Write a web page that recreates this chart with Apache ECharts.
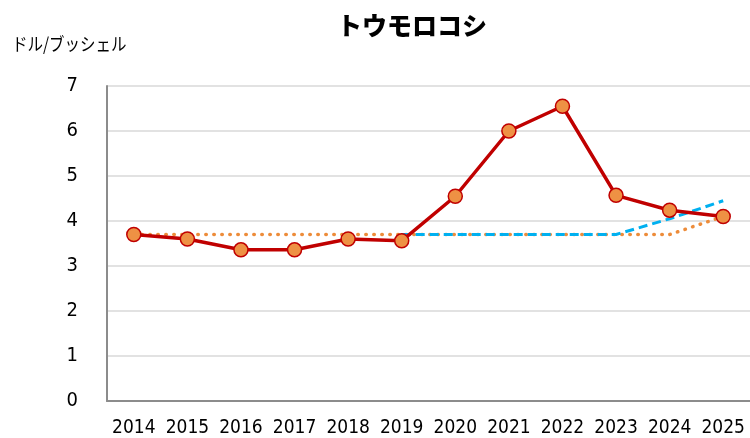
<!DOCTYPE html>
<html><head><meta charset="utf-8">
<script src="https://cdn.jsdelivr.net/npm/echarts@6/dist/echarts.min.js"></script>
<style>html,body{margin:0;padding:0;background:#fff}#c{width:750px;height:438px}</style>
</head><body><div id="c"></div>
<script>
const years = ['2014','2015','2016','2017','2018','2019','2020','2021','2022','2023','2024','2025'];
const actual = [3.7, 3.6, 3.36, 3.36, 3.6, 3.56, 4.55, 6.0, 6.55, 4.57, 4.24, 4.1];
const dotted = [3.7, 3.7, 3.7, 3.7, 3.7, 3.7, 3.7, 3.7, 3.7, 3.7, 3.7, 4.1];
const dashed = [null, null, null, null, null, 3.7, 3.7, 3.7, 3.7, 3.7, 4.05, 4.45];
const yTicks = [0, 1, 2, 3, 4, 5, 6, 7];

const labelFont = "'DejaVu Sans Condensed', 'DejaVu Sans'";
const chart = echarts.init(document.getElementById('c'));
chart.setOption({
  animation: false,
  title: {
    text: 'トウモロコシ', left: 407, top: 8, textAlign: 'center',
    textStyle: {fontFamily: 'Noto Sans CJK JP', fontWeight: 900, fontSize: 25, color: '#000'}
  },
  graphic: [{
    type: 'text', x: 12, y: 35, scaleX: 0.86,
    style: {text: 'ドル/ブッシェル', font: '18px "Noto Sans CJK JP"', fill: '#000'}
  }],
  grid: {left: 107, top: 86, width: 645, height: 317, containLabel: false},
  xAxis: {
    type: 'category', data: years, boundaryGap: true,
    axisLine: {lineStyle: {color: '#8c8c8c', width: 2}},
    axisTick: {show: false},
    axisLabel: {fontFamily: labelFont, fontSize: 19, color: '#000', margin: 18, interval: 0}
  },
  yAxis: {
    type: 'value', min: yTicks[0], max: yTicks[yTicks.length - 1], interval: 1,
    axisLine: {show: true, lineStyle: {color: '#8c8c8c', width: 2}},
    axisTick: {show: false},
    splitLine: {lineStyle: {color: '#d9d9d9', width: 1.5}},
    axisLabel: {fontFamily: labelFont, fontSize: 20, color: '#000', margin: 29}
  },
  series: [
    {
      type: 'line', data: dotted, symbol: 'none', z: 2,
      lineStyle: {color: '#ED8C3A', width: 3.5, type: [0.5, 7.5], cap: 'round'}
    },
    {
      type: 'line', data: dashed, symbol: 'none', z: 3,
      lineStyle: {color: '#00B0F0', width: 3, type: [9, 5]}
    },
    {
      type: 'line', data: actual, z: 4,
      symbol: 'circle', symbolSize: 14,
      lineStyle: {color: '#C00000', width: 3.5},
      itemStyle: {color: '#EE9144', borderColor: '#C00000', borderWidth: 1.5}
    }
  ]
});
</script></body></html>
